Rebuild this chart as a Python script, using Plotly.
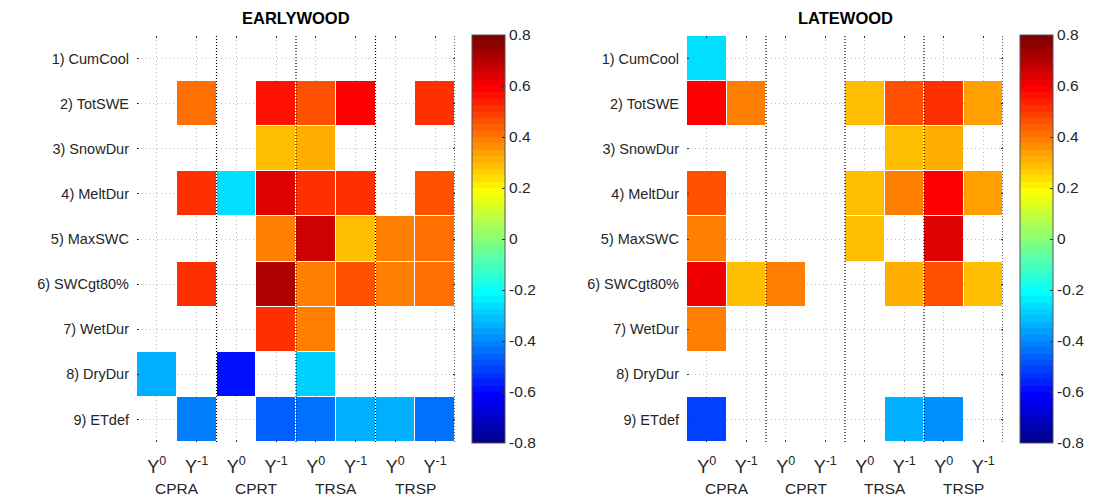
import numpy as np
import plotly.graph_objects as go

row_labels = ["1) CumCool", "2) TotSWE", "3) SnowDur", "4) MeltDur", "5) MaxSWC",
              "6) SWCgt80%", "7) WetDur", "8) DryDur", "9) ETdef"]
col_labels = ["Y<sup>0</sup>", "Y<sup>-1</sup>"] * 4
groups = ["CPRA", "CPRT", "TRSA", "TRSP"]

N = None
earlywood = [
    [N, N, N, N, N, N, N, N],
    [N, 0.42, N, 0.55, 0.47, 0.575, N, 0.50],
    [N, N, N, 0.30, 0.32, N, N, N],
    [N, 0.525, -0.27, 0.627, 0.525, 0.50, N, 0.47],
    [N, N, N, 0.38, 0.674, 0.30, 0.375, 0.42],
    [N, 0.50, N, 0.70, 0.38, 0.45, 0.38, 0.42],
    [N, N, N, 0.525, 0.38, N, N, N],
    [-0.35, N, -0.59, N, -0.30, N, N, N],
    [N, -0.42, N, -0.475, -0.45, -0.35, -0.33, -0.45],
]
latewood = [
    [-0.27, N, N, N, N, N, N, N],
    [0.60, 0.40, N, N, 0.30, 0.45, 0.50, 0.35],
    [N, N, N, N, N, 0.30, 0.32, N],
    [0.45, N, N, N, 0.30, 0.40, 0.575, 0.35],
    [0.375, N, N, N, 0.30, N, 0.649, N],
    [0.62, 0.30, 0.40, N, N, 0.32, 0.45, 0.30],
    [0.375, N, N, N, N, N, N, N],
    [N, N, N, N, N, N, N, N],
    [-0.525, N, N, N, N, -0.35, -0.40, N],
]
cticks = [-0.8, -0.6, -0.4, -0.2, 0, 0.2, 0.4, 0.6, 0.8]


def matlab_jet(m=64):
    n = int(np.ceil(m / 4))
    u = np.concatenate([np.arange(1, n + 1) / n, np.ones(n - 1), np.arange(n, 0, -1) / n])
    g = int(np.ceil(n / 2)) - (1 if m % 4 == 1 else 0) + np.arange(1, len(u) + 1)
    r = g + n
    b = g - n
    J = np.zeros((m, 3))
    for ch, idxs in enumerate([r, g, b]):
        for idx, val in zip(idxs, u):
            if 1 <= idx <= m:
                J[idx - 1, ch] = val
    return J


J = matlab_jet(64)
cs = []
for i, c in enumerate(J):
    col = "rgb(%d,%d,%d)" % tuple(np.round(c * 255).astype(int))
    cs.append([i / 64, col])
    cs.append([(i + 1) / 64, col])

xs = list(range(1, 9))
ys = list(range(1, 10))
FONT = "Liberation Sans, Arial, sans-serif"
TXT = "#262626"

# figure is placed by the page at (8, 8); pixel positions below are relative to it
W, H = 1087, 492


def px(x):
    return x / W


def py(y):
    return 1 - y / H


fig = go.Figure()
panels = [
    (earlywood, "x", "y", [px(129), px(447)], px(464), "EARLYWOOD"),
    (latewood, "x2", "y2", [px(679), px(995)], px(1012), "LATEWOOD"),
]
for k, (z, xa, ya, dom, cbx, title) in enumerate(panels):
    fig.add_trace(go.Heatmap(
        z=z, x=xs, y=ys, xaxis=xa, yaxis=ya, colorscale=cs, zmin=-0.8, zmax=0.8,
        xgap=1, ygap=1, hoverongaps=False,
        colorbar=dict(x=cbx, xanchor="left", y=py(231), yanchor="middle",
                      len=408 / H, lenmode="fraction", thickness=33, thicknessmode="pixels",
                      outlinewidth=1, outlinecolor="#555555", tickvals=cticks,
                      ticktext=["%g" % t for t in cticks], ticks="inside", ticklen=3,
                      tickcolor="#333333", tickfont=dict(size=15.5, color=TXT, family=FONT),
                      xpad=0, ypad=0),
    ))
    sfx = "" if k == 0 else str(k + 1)
    fig.layout["xaxis" + sfx] = dict(
        domain=dom, range=[0.5, 8.5], tickvals=xs, ticktext=col_labels, anchor=ya,
        showgrid=True, gridcolor="#c0c0c0", griddash="1px,3px", gridwidth=1,
        zeroline=False, showline=False, ticks="inside", ticklen=2, tickcolor="#333333",
        mirror="ticks", automargin=False,
        tickfont=dict(size=18, color=TXT, family=FONT), ticklabelstandoff=12)
    fig.layout["yaxis" + sfx] = dict(
        domain=[py(434), py(28)], range=[9.5, 0.5], tickvals=ys,
        ticktext=row_labels, anchor=xa, showgrid=True, gridcolor="#c0c0c0",
        griddash="1px,3px", gridwidth=1, zeroline=False, showline=False,
        ticks="inside", ticklen=2, tickcolor="#333333", mirror="ticks",
        automargin=False, tickfont=dict(size=14.5, color=TXT, family=FONT),
        ticklabelstandoff=7)
    for xv in [2.5, 4.5, 6.5, 8.5]:
        fig.add_shape(type="line", xref=xa, yref=ya, x0=xv, x1=xv, y0=0.5, y1=9.5,
                      line=dict(color="black", width=1.2, dash="1px,2px"), layer="above")
    for gi, gname in enumerate(groups):
        fig.add_annotation(xref=xa, yref="paper", x=1.5 + 2 * gi, y=py(480),
                           text=gname, showarrow=False, yanchor="middle",
                           font=dict(size=15.5, color=TXT, family=FONT))
    fig.add_annotation(xref=xa + " domain", yref="paper", x=0.5, y=py(10),
                       text="<b>%s</b>" % title, showarrow=False, yanchor="middle",
                       font=dict(size=16.5, color="black", family=FONT))

fig.update_layout(width=W, height=H, margin=dict(l=0, r=0, t=0, b=0),
                  template="none", plot_bgcolor="white", paper_bgcolor="white",
                  font=dict(family=FONT, color=TXT))
fig.write_html("out.html")
